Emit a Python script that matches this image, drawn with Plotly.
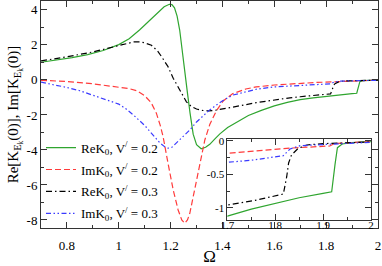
import plotly.graph_objects as go

# ---- data ----
omega_re02 = [0.70, 0.76, 0.82, 0.88, 0.94, 1.00, 1.04, 1.08, 1.12, 1.15, 1.175, 1.195, 1.205, 1.215,
              1.225, 1.235, 1.245, 1.255, 1.265, 1.275, 1.287, 1.300, 1.318, 1.335, 1.351, 1.37, 1.39,
              1.42, 1.46, 1.50, 1.55, 1.60, 1.65, 1.70, 1.75, 1.80, 1.85, 1.90, 1.918, 1.925, 1.930,
              1.940, 1.96, 2.00]
re_k0_v02 = [1.01, 1.12, 1.27, 1.45, 1.68, 2.02, 2.35, 2.85, 3.40, 3.85, 4.18, 4.32, 4.30, 4.12,
             3.65, 2.85, 1.55, 0.30, -0.75, -1.90, -3.10, -3.70, -3.93, -3.85, -3.68, -3.38, -3.08,
             -2.72, -2.35, -2.03, -1.74, -1.48, -1.28, -1.125, -1.02, -0.93, -0.85, -0.785, -0.76,
             -0.35, -0.10, -0.045, -0.025, -0.01]

omega_im02 = [0.70, 0.80, 0.90, 0.95, 1.00, 1.04, 1.07, 1.10, 1.125, 1.145, 1.16, 1.171, 1.19, 1.21,
              1.229, 1.243, 1.254, 1.265, 1.274, 1.293, 1.312, 1.332, 1.351, 1.377, 1.403, 1.44, 1.49,
              1.53, 1.60, 1.66, 1.70, 1.754, 1.824, 1.914, 1.922, 1.93, 2.00]
im_k0_v02 = [-0.02, -0.09, -0.22, -0.32, -0.40, -0.50, -0.62, -0.90, -1.30, -1.90, -2.60, -3.24,
             -4.76, -6.29, -7.43, -8.00, -8.19, -8.00, -7.62, -6.29, -4.76, -3.43, -2.55, -1.75,
             -1.20, -0.78, -0.52, -0.40, -0.29, -0.22, -0.185, -0.15, -0.11, -0.075, -0.045, -0.035,
             -0.01]

omega_re03 = [0.70, 0.80, 0.90, 0.95, 1.00, 1.03, 1.06, 1.08, 1.10, 1.126, 1.15, 1.165, 1.19, 1.21,
              1.23, 1.245, 1.261, 1.28, 1.30, 1.32, 1.345, 1.37, 1.40, 1.44, 1.47, 1.53, 1.60, 1.66,
              1.70, 1.754, 1.817, 1.824, 1.828, 1.834, 1.848, 1.866, 1.90, 2.00]
re_k0_v03 = [1.09, 1.32, 1.60, 1.78, 1.98, 2.10, 2.18, 2.18, 2.12, 1.98, 1.65, 1.33, 0.76, 0.10,
             -0.45, -0.85, -1.25, -1.52, -1.66, -1.74, -1.77, -1.74, -1.67, -1.55, -1.47, -1.30,
             -1.13, -1.02, -0.96, -0.895, -0.795, -0.535, -0.33, -0.21, -0.11, -0.06, -0.04, -0.015]

omega_im03 = [0.70, 0.75, 0.80, 0.85, 0.90, 0.95, 1.00, 1.03, 1.06, 1.10, 1.13, 1.16, 1.18, 1.19,
              1.205, 1.235, 1.274, 1.30, 1.325, 1.351, 1.377, 1.41, 1.441, 1.49, 1.532, 1.60, 1.66,
              1.70, 1.754, 1.817, 1.831, 1.852, 1.93, 2.00]
im_k0_v03 = [-0.13, -0.27, -0.43, -0.62, -0.86, -1.10, -1.38, -1.68, -2.05, -2.60, -3.10, -3.62,
             -3.85, -3.90, -3.85, -3.43, -2.86, -2.40, -2.05, -1.71, -1.43, -1.10, -0.86, -0.66,
             -0.53, -0.40, -0.34, -0.32, -0.285, -0.22, -0.12, -0.07, -0.04, -0.02]

series_names = ["ReK<sub>0</sub>, V<sup>/</sup> = 0.2", "ImK<sub>0</sub>, V<sup>/</sup> = 0.2",
                "ReK<sub>0</sub>, V<sup>/</sup> = 0.3", "ImK<sub>0</sub>, V<sup>/</sup> = 0.3"]

main_xticks = [0.8, 1.0, 1.2, 1.4, 1.6, 1.8, 2.0]
main_xtext = ["0.8", "1", "1.2", "1.4", "1.6", "1.8", "2"]
main_yticks = [4, 2, 0, -2, -4, -6, -8]
main_ytext = ["4", "2", "0", "-2", "-4", "-6", "-8"]
inset_xticks = [1.7, 1.8, 1.9, 2.0]
inset_xtext = ["1.7", "1.8", "1.9", "2"]
inset_yticks = [0, -0.5, -1]
inset_ytext = ["0", "-0.5", "-1"]

FONT = "Liberation Serif"
styles = [
    dict(color="#2fa52f", dash="solid"),
    dict(color="#ff3b3b", dash="6px,3px"),
    dict(color="#000000", dash="6px,3px,1.5px,3px"),
    dict(color="#3a3aff", dash="5px,2.5px,1.5px,2.5px,1.5px,2.5px"),
]
datasets = [(omega_re02, re_k0_v02), (omega_im02, im_k0_v02),
            (omega_re03, re_k0_v03), (omega_im03, im_k0_v03)]

fig = go.Figure()
for i, ((xs, ys), st, nm) in enumerate(zip(datasets, styles, series_names)):
    fig.add_trace(go.Scatter(x=xs, y=ys, mode="lines", name=nm, legendgroup=f"g{i}",
                             line=dict(color=st["color"], dash=st["dash"], width=1.2),
                             xaxis="x", yaxis="y"))
for i, ((xs, ys), st, nm) in enumerate(zip(datasets, styles, series_names)):
    fig.add_trace(go.Scatter(x=xs, y=ys, mode="lines", name=nm, showlegend=False,
                             line=dict(color=st["color"], dash=st["dash"], width=1.2),
                             xaxis="x2", yaxis="y2"))

axis_common = dict(showline=True, linecolor="#333333", linewidth=1, mirror="ticks",
                   ticks="inside", ticklen=6, tickcolor="#333333", showgrid=False, zeroline=False,
                   automargin=False)

fig.update_layout(
    width=382, height=266,
    margin=dict(l=41, r=4, t=1, b=38, autoexpand=False),
    paper_bgcolor="white", plot_bgcolor="white",
    font=dict(family=FONT, color="black"),
    xaxis=dict(domain=[0, 1], range=[0.7, 2.0], tickvals=main_xticks, ticktext=main_xtext,
               tickfont=dict(size=13, family=FONT), ticklabelstandoff=5,
               minor=dict(dtick=0.1, ticklen=3, ticks="inside", tickcolor="#333333"),
               title=dict(text="Ω", font=dict(size=17, family=FONT), standoff=0),
               **axis_common),
    yaxis=dict(domain=[0, 1], range=[-8.46, 4.51], tickvals=main_yticks, ticktext=main_ytext,
               tickfont=dict(size=13, family=FONT),
               minor=dict(dtick=1, ticklen=3, ticks="inside", tickcolor="#333333"),
               title=dict(text="Re[K<sub>E<sub>k</sub></sub>(0)], Im[K<sub>E<sub>k</sub></sub>(0)]",
                          font=dict(size=15, family=FONT), standoff=4),
               **axis_common),
    xaxis2=dict(domain=[0.553, 0.979], anchor="y2", range=[1.7, 2.0], tickvals=inset_xticks,
                ticktext=inset_xtext, tickfont=dict(size=11, family=FONT), ticklabelstandoff=-5,
                minor=dict(dtick=0.05, ticklen=3, ticks="inside", tickcolor="#333333"),
                **axis_common),
    yaxis2=dict(domain=[0.035, 0.390], anchor="x2", range=[-1.184, 0.0225], tickvals=inset_yticks,
                ticktext=inset_ytext, tickfont=dict(size=11, family=FONT),
                minor=dict(dtick=0.25, ticklen=3, ticks="inside", tickcolor="#333333"),
                **axis_common),
    legend=dict(x=0.0, y=0.42, xanchor="left", yanchor="top", bgcolor="rgba(0,0,0,0)",
                font=dict(size=13, family=FONT), tracegroupgap=2, itemwidth=30),
    showlegend=True,
)

fig.write_html("out.html", config={"displayModeBar": False},
               post_script="document.body.style.margin='0px';")
